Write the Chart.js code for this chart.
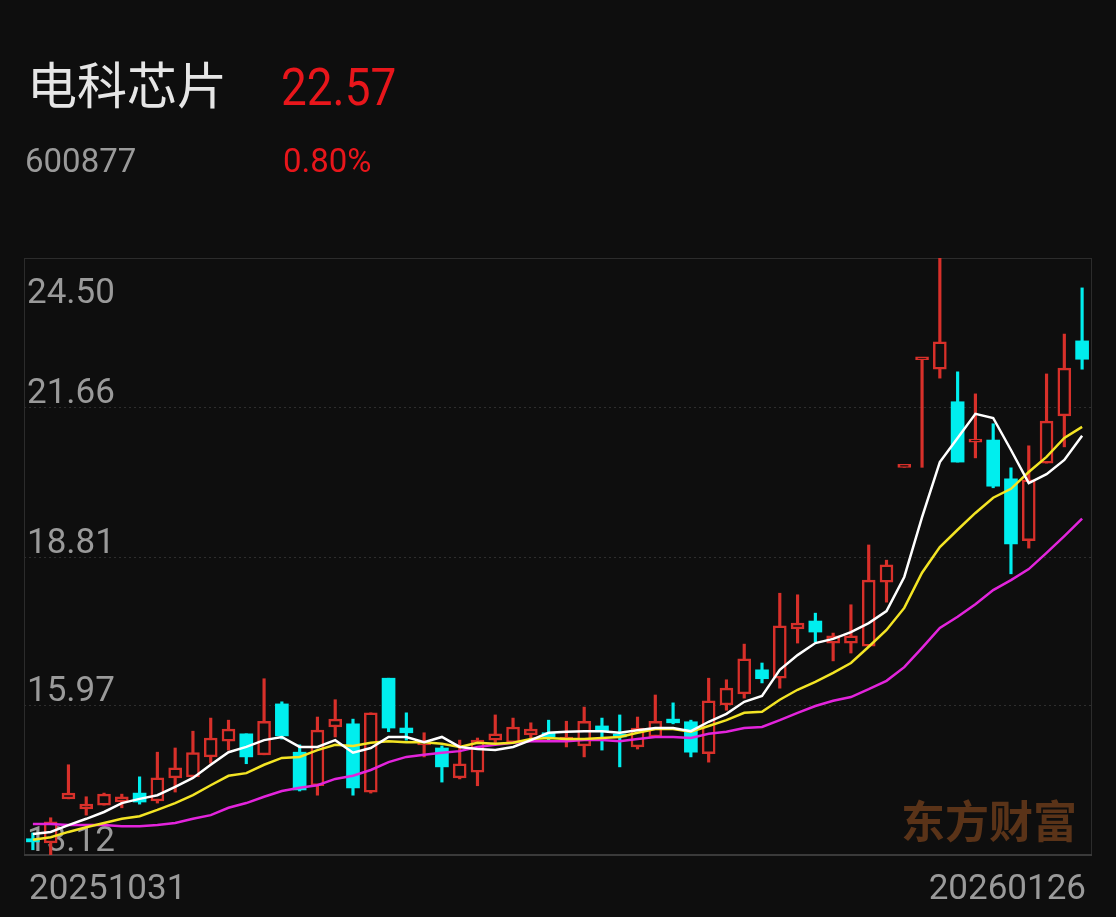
<!DOCTYPE html>
<html lang="zh-CN">
<head>
<meta charset="utf-8">
<title>电科芯片 600877</title>
<script src="https://cdn.jsdelivr.net/npm/chart.js@4.4.1/dist/chart.umd.min.js"></script>
<style>
  html, body { margin: 0; padding: 0; background: #0e0e0e; }
  #wrap { width: 1116px; height: 917px; }
</style>
</head>
<body>
<div id="wrap"><canvas id="kline" width="1116" height="917"></canvas></div>
<script>
// 日期 (20251031 - 20260126)
const dates = [
    '20251031',
    '20251103', '20251104', '20251105', '20251106', '20251107',
    '20251110', '20251111', '20251112', '20251113', '20251114',
    '20251117', '20251118', '20251119', '20251120', '20251121',
    '20251124', '20251125', '20251126', '20251127', '20251128',
    '20251201', '20251202', '20251203', '20251204', '20251205',
    '20251208', '20251209', '20251210', '20251211', '20251212',
    '20251215', '20251216', '20251217', '20251218', '20251219',
    '20251222', '20251223', '20251224', '20251225', '20251226',
    '20251229', '20251230', '20251231',
    '20260105', '20260106', '20260107', '20260108', '20260109',
    '20260112', '20260113', '20260114', '20260115', '20260116',
    '20260119', '20260120', '20260121', '20260122', '20260123',
    '20260126'
];

const openP = [
    13.43, 13.35, 14.19, 14.00, 14.07, 14.13, 14.30, 14.15, 14.59, 14.61,
    14.99, 15.29, 15.43, 15.03, 16.00, 15.08, 14.44, 15.56, 15.62, 14.32,
    16.49, 15.54, 15.22, 15.16, 14.59, 14.70, 15.31, 15.26, 15.41, 15.45,
    15.31, 15.20, 15.58, 15.41, 15.18, 15.37, 15.71, 15.66, 15.05, 15.98,
    16.19, 16.65, 16.49, 17.43, 17.58, 17.16, 17.16, 17.10, 18.32, 20.51,
    22.56, 22.38, 21.76, 20.99, 21.03, 20.29, 19.11, 20.59, 21.49, 22.92
];
const highP = [
    13.54, 13.83, 14.84, 14.23, 14.30, 14.28, 14.61, 15.08, 15.16, 15.48,
    15.73, 15.69, 15.43, 16.48, 16.04, 15.22, 15.75, 16.08, 15.71, 15.83,
    16.49, 15.83, 15.45, 15.20, 15.31, 15.35, 15.79, 15.73, 15.64, 15.69,
    15.67, 15.94, 15.73, 15.79, 15.75, 16.17, 16.02, 15.69, 16.49, 16.46,
    17.14, 16.78, 18.11, 18.08, 17.73, 17.35, 17.89, 19.03, 18.74, 20.51,
    22.56, 24.50, 22.33, 21.91, 21.34, 20.50, 20.92, 22.29, 23.05, 23.93
];
const lowP = [
    13.22, 13.12, 14.19, 13.88, 14.07, 14.02, 14.09, 14.11, 14.32, 14.61,
    14.87, 15.12, 14.86, 15.03, 15.33, 14.34, 14.26, 15.37, 14.26, 14.30,
    15.47, 15.31, 14.99, 14.51, 14.57, 14.44, 15.26, 15.26, 15.31, 15.31,
    15.18, 14.99, 15.12, 14.80, 15.14, 15.37, 15.62, 14.99, 14.89, 15.88,
    16.11, 16.40, 16.30, 17.16, 17.18, 16.82, 16.97, 17.09, 17.94, 20.51,
    20.51, 22.21, 20.61, 20.69, 20.12, 18.48, 18.97, 20.59, 20.90, 22.38
];
const closeP = [
    13.37, 13.75, 14.30, 14.09, 14.28, 14.23, 14.13, 14.59, 14.78, 15.07,
    15.35, 15.52, 14.99, 15.67, 15.39, 14.36, 15.50, 15.71, 14.40, 15.83,
    15.54, 15.45, 15.27, 14.80, 14.86, 15.31, 15.43, 15.56, 15.52, 15.37,
    15.37, 15.67, 15.47, 15.37, 15.54, 15.67, 15.64, 15.08, 16.06, 16.30,
    16.86, 16.48, 17.49, 17.54, 17.37, 17.30, 17.30, 18.36, 18.65, 20.51,
    22.56, 22.90, 20.61, 21.03, 20.15, 19.05, 20.27, 21.39, 22.40, 22.57
];

// 均线
const ma5 = [
    13.52, 13.56, 13.69, 13.81, 13.94, 14.11, 14.19, 14.26, 14.42, 14.59,
    14.84, 15.08, 15.18, 15.31, 15.37, 15.18, 15.18, 15.31, 15.07, 15.16,
    15.37, 15.37, 15.27, 15.37, 15.18, 15.14, 15.12, 15.18, 15.31, 15.45,
    15.47, 15.48, 15.48, 15.45, 15.50, 15.54, 15.54, 15.48, 15.66, 15.81,
    16.04, 16.15, 16.65, 16.93, 17.16, 17.24, 17.37, 17.54, 17.77, 18.42,
    19.56, 20.61, 21.07, 21.53, 21.45, 20.84, 20.21, 20.38, 20.65, 21.11
];
const ma10 = [
    13.41, 13.46, 13.56, 13.65, 13.73, 13.81, 13.86, 13.98, 14.11, 14.26,
    14.45, 14.63, 14.68, 14.84, 14.97, 14.99, 15.12, 15.22, 15.20, 15.26,
    15.29, 15.27, 15.27, 15.24, 15.18, 15.26, 15.24, 15.26, 15.33, 15.35,
    15.33, 15.33, 15.35, 15.37, 15.45, 15.52, 15.52, 15.47, 15.58, 15.69,
    15.83, 15.85, 16.08, 16.27, 16.42, 16.59, 16.78, 17.09, 17.41, 17.83,
    18.50, 18.99, 19.32, 19.64, 19.93, 20.10, 20.42, 20.71, 21.07, 21.28
];
const ma20 = [
    13.71, 13.71, 13.69, 13.69, 13.69, 13.67, 13.67, 13.69, 13.73, 13.81,
    13.88, 14.02, 14.11, 14.23, 14.34, 14.40, 14.45, 14.57, 14.63, 14.74,
    14.89, 14.99, 15.03, 15.07, 15.10, 15.18, 15.22, 15.26, 15.29, 15.29,
    15.29, 15.31, 15.31, 15.29, 15.33, 15.37, 15.37, 15.35, 15.43, 15.47,
    15.54, 15.56, 15.69, 15.83, 15.96, 16.06, 16.13, 16.28, 16.44, 16.70,
    17.07, 17.45, 17.66, 17.90, 18.17, 18.36, 18.57, 18.88, 19.20, 19.53
];

const yTicks = [24.50, 21.66, 18.81, 15.97, 13.12];
const xTickLabels = [dates[0], dates[dates.length - 1]];

const BG = '#0e0e0e';
const UP = '#d8302a';
const DOWN = '#00eeee';

// 涨跌判断 (平盘时与前一日收盘比较)
const isUp = i => closeP[i] > openP[i] ||
    (closeP[i] === openP[i] && (i === 0 || closeP[i] >= closeP[i - 1]));

const bodyData = openP.map((o, i) => [Math.min(o, closeP[i]), Math.max(o, closeP[i])]);
const wickData = lowP.map((l, i) => [l, highP[i]]);

function drawText(ctx, text, x, y, font, color, align, sx) {
    ctx.save();
    ctx.font = font;
    ctx.fillStyle = color;
    ctx.textAlign = align;
    ctx.textBaseline = 'alphabetic';
    ctx.translate(x, y);
    ctx.scale(sx, 1);
    ctx.fillText(text, 0, 0);
    ctx.restore();
}

// 标题, 边框, 网格, 刻度文字, 水印
const decorPlugin = {
    id: 'decor',
    beforeDatasetsDraw(chart) {
        const ctx = chart.ctx;
        const area = chart.chartArea;
        const yScale = chart.scales.y;

        // 标题
        drawText(ctx, '电科芯片', 27, 104, '50px "Noto Sans CJK SC", sans-serif', '#e6e6e6', 'left', 1);
        drawText(ctx, '22.57', 281, 105, '51px Roboto, sans-serif', '#e8161b', 'left', 0.9);
        drawText(ctx, '600877', 25, 172, '33px Roboto, sans-serif', '#9a9a9a', 'left', 1);
        drawText(ctx, '0.80%', 283, 172, '33px Roboto, sans-serif', '#e8161b', 'left', 1);

        // 水印
        ctx.save();
        ctx.font = 'bold 44px "Noto Sans CJK SC", sans-serif';
        ctx.fillStyle = '#5a3318';
        ctx.textAlign = 'right';
        ctx.textBaseline = 'alphabetic';
        ctx.fillText('东方财富', 1077, 838);
        ctx.restore();

        // 网格
        ctx.save();
        ctx.strokeStyle = '#2e2e2e';
        ctx.lineWidth = 1;
        ctx.setLineDash([2, 3]);
        yTicks.forEach(v => {
            if (v === yScale.min || v === yScale.max) return;
            const y = Math.round(yScale.getPixelForValue(v)) + 0.5;
            ctx.beginPath();
            ctx.moveTo(area.left, y);
            ctx.lineTo(area.right, y);
            ctx.stroke();
        });
        ctx.restore();

        // 边框
        ctx.save();
        ctx.strokeStyle = '#2c2c2c';
        ctx.lineWidth = 1;
        ctx.strokeRect(area.left + 0.5, area.top + 0.5, area.right - area.left, area.bottom - area.top);
        ctx.strokeStyle = '#3a3a3a';
        ctx.lineWidth = 2;
        ctx.beginPath();
        ctx.moveTo(area.left, area.bottom);
        ctx.lineTo(area.right + 1, area.bottom);
        ctx.stroke();
        ctx.restore();

        // Y 轴刻度
        yTicks.forEach(v => {
            const y = yScale.getPixelForValue(v);
            const base = v === yScale.max ? y + 45 : y - 4;
            drawText(ctx, v.toFixed(2), area.left + 3, base, '35px Roboto, sans-serif', '#9a9a9a', 'left', 1);
        });

        // X 轴刻度
        drawText(ctx, xTickLabels[0], 29, 899, '35px Roboto, sans-serif', '#9a9a9a', 'left', 1);
        drawText(ctx, xTickLabels[1], 1086, 899, '35px Roboto, sans-serif', '#9a9a9a', 'right', 1);
    }
};

const ctx = document.getElementById('kline').getContext('2d');
new Chart(ctx, {
    type: 'bar',
    data: {
        labels: dates,
        datasets: [
            {
                type: 'line', label: 'MA5', data: ma5, order: 0,
                borderColor: '#ffffff', borderWidth: 2.5, pointRadius: 0, tension: 0
            },
            {
                type: 'line', label: 'MA10', data: ma10, order: 0,
                borderColor: '#f3e424', borderWidth: 2.5, pointRadius: 0, tension: 0
            },
            {
                type: 'line', label: 'MA20', data: ma20, order: 0,
                borderColor: '#e324dc', borderWidth: 2.5, pointRadius: 0, tension: 0
            },
            {
                label: '实体', data: bodyData, order: 1,
                grouped: false, barThickness: 13, minBarLength: 3,
                borderSkipped: false,
                backgroundColor: c => isUp(c.dataIndex) ? BG : DOWN,
                borderColor: c => isUp(c.dataIndex) ? UP : DOWN,
                borderWidth: c => isUp(c.dataIndex) ? 2.5 : 0
            },
            {
                label: '影线', data: wickData, order: 2,
                grouped: false, barThickness: 2.5,
                borderSkipped: false, borderWidth: 0,
                backgroundColor: c => isUp(c.dataIndex) ? UP : DOWN
            }
        ]
    },
    options: {
        responsive: false,
        animation: false,
        layout: { padding: { left: 24, right: 25, top: 258, bottom: 62 } },
        plugins: {
            legend: { display: false },
            tooltip: { enabled: false }
        },
        scales: {
            x: { display: false, offset: true },
            y: { display: false, min: 13.12, max: 24.50 }
        }
    },
    plugins: [decorPlugin]
});
</script>
</body>
</html>
